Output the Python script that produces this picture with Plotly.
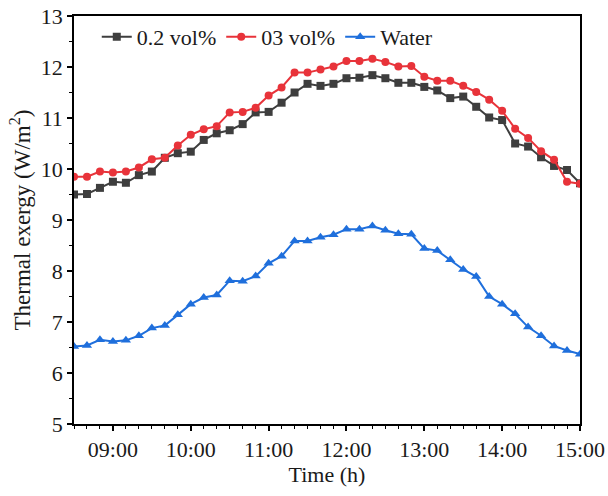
import plotly.graph_objects as go

times = ["08:30", "08:40", "08:50", "09:00", "09:10", "09:20", "09:30", "09:40", "09:50",
         "10:00", "10:10", "10:20", "10:30", "10:40", "10:50",
         "11:00", "11:10", "11:20", "11:30", "11:40", "11:50",
         "12:00", "12:10", "12:20", "12:30", "12:40", "12:50",
         "13:00", "13:10", "13:20", "13:30", "13:40", "13:50",
         "14:00", "14:10", "14:20", "14:30", "14:40", "14:50", "15:00"]

vol02 = [9.50, 9.51, 9.63, 9.75, 9.73, 9.88, 9.95, 10.22, 10.31, 10.34,
         10.57, 10.70, 10.76, 10.88, 11.11, 11.12, 11.30, 11.50, 11.67, 11.63,
         11.67, 11.78, 11.79, 11.84, 11.78, 11.69, 11.69, 11.61, 11.54, 11.39,
         11.42, 11.22, 11.01, 10.96, 10.50, 10.44, 10.23, 10.06, 9.98, 9.72]

vol03 = [9.85, 9.85, 9.95, 9.93, 9.95, 10.03, 10.19, 10.22, 10.46, 10.67,
         10.78, 10.84, 11.11, 11.12, 11.20, 11.44, 11.60, 11.89, 11.89, 11.95,
         12.01, 12.12, 12.12, 12.16, 12.10, 12.01, 12.02, 11.81, 11.73, 11.73,
         11.63, 11.51, 11.36, 11.14, 10.79, 10.61, 10.35, 10.18, 9.75, 9.71]

water = [6.52, 6.54, 6.65, 6.62, 6.64, 6.73, 6.88, 6.93, 7.14, 7.35,
         7.48, 7.53, 7.81, 7.80, 7.90, 8.15, 8.29, 8.59, 8.59, 8.66,
         8.71, 8.82, 8.82, 8.88, 8.80, 8.73, 8.72, 8.44, 8.40, 8.22,
         8.03, 7.89, 7.50, 7.35, 7.16, 6.90, 6.73, 6.53, 6.44, 6.37]

series_names = ["0.2 vol%", "03 vol%", "Water"]
x = ["2024-01-01 " + t for t in times]

FONT = "Liberation Serif, Times New Roman, serif"

fig = go.Figure()
fig.add_trace(go.Scatter(x=x, y=vol02, name=series_names[0], mode="lines+markers",
                         line=dict(color="#3e3e3e", width=2),
                         marker=dict(symbol="square", size=8, color="#3e3e3e")))
fig.add_trace(go.Scatter(x=x, y=vol03, name=series_names[1], mode="lines+markers",
                         line=dict(color="#e8333a", width=2),
                         marker=dict(symbol="circle", size=8, color="#e8333a")))
fig.add_trace(go.Scatter(x=x, y=water, name=series_names[2], mode="lines+markers",
                         line=dict(color="#1f6fdc", width=2),
                         marker=dict(symbol="triangle-up", size=9, color="#1f6fdc")))

fig.update_layout(
    width=608, height=496,
    margin=dict(l=74, r=28, t=16, b=72, autoexpand=False),
    paper_bgcolor="white", plot_bgcolor="white",
    font=dict(family=FONT, size=22, color="#1a1a1a"),
    showlegend=True,
    legend=dict(orientation="h", x=0.045, y=1.0, xanchor="left", yanchor="top",
                bgcolor="rgba(0,0,0,0)", font=dict(size=22, family=FONT),
                itemwidth=30, tracegroupgap=0),
)

fig.update_xaxes(
    type="date", automargin=False,
    range=["2024-01-01 08:30", "2024-01-01 15:00"],
    tick0="2024-01-01 09:00", dtick=3600000, tickformat="%H:%M",
    showgrid=False, zeroline=False,
    showline=True, linecolor="black", linewidth=1.5, mirror=True,
    ticks="outside", ticklen=5, tickwidth=1.5, tickcolor="black",
    minor=dict(dtick=600000, tick0="2024-01-01 09:00", ticks="outside", ticklen=3,
               tickwidth=1, tickcolor="black", showgrid=False),
    tickfont=dict(size=22, family=FONT),
    title=dict(text="Time (h)", font=dict(size=22, family=FONT), standoff=2),
)
fig.update_yaxes(
    range=[5, 13], dtick=1, tick0=5, automargin=False,
    showgrid=False, zeroline=False,
    showline=True, linecolor="black", linewidth=1.5, mirror=True,
    ticks="outside", ticklen=5, tickwidth=1.5, tickcolor="black",
    minor=dict(dtick=0.5, ticks="outside", ticklen=3, tickwidth=1,
               tickcolor="black", showgrid=False),
    tickfont=dict(size=22, family=FONT),
    title=dict(text="Thermal exergy (W/m<sup>2</sup>)", font=dict(size=23, family=FONT), standoff=4),
)

fig.write_html("out.html", config={"displayModeBar": False},
               post_script="document.body.style.margin='0';document.body.style.overflow='hidden';")
